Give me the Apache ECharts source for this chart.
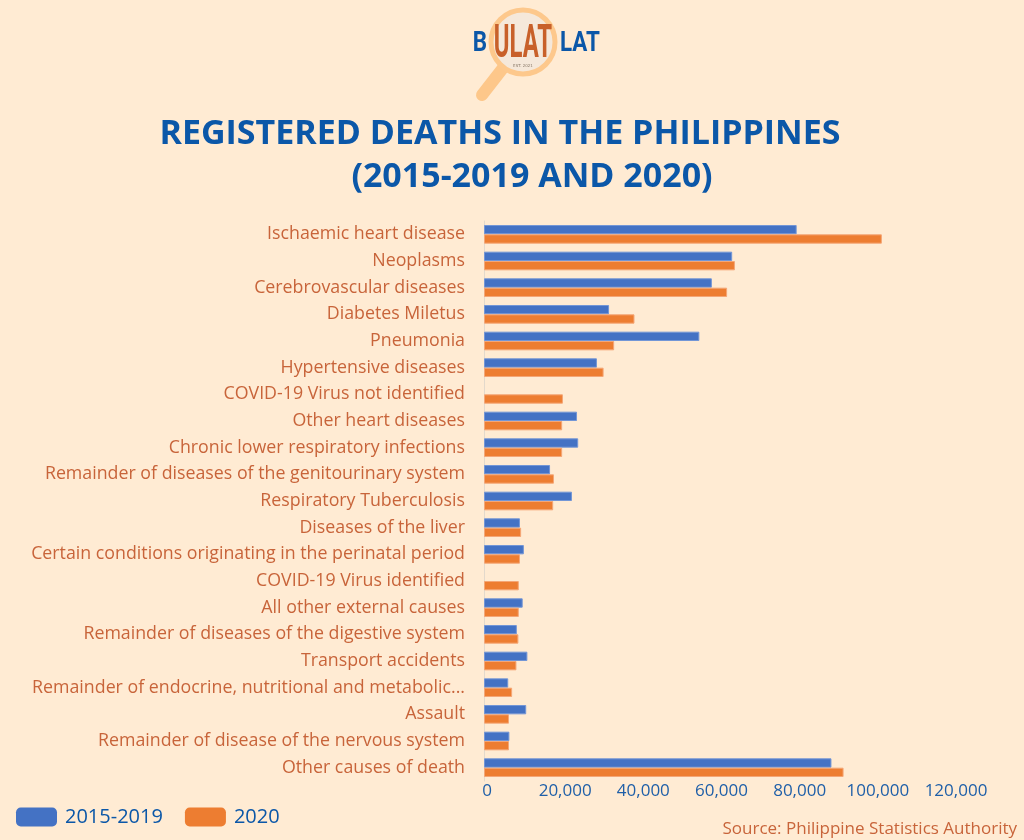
<!DOCTYPE html>
<html>
<head>
<meta charset="utf-8">
<script src="https://cdn.jsdelivr.net/npm/echarts@6/dist/echarts.min.js"></script>
<style>
  html, body { margin: 0; padding: 0; background: #FFEBD3; }
  #chart { width: 1024px; height: 840px; }
</style>
</head>
<body>
<div id="chart"></div>
<script>
// causes of death, top to bottom (labels as printed on the chart)
var causes = [
    "Ischaemic heart disease",
    "Neoplasms",
    "Cerebrovascular diseases",
    "Diabetes Miletus",
    "Pneumonia",
    "Hypertensive diseases",
    "COVID-19 Virus not identified",
    "Other heart diseases",
    "Chronic lower respiratory infections",
    "Remainder of diseases of the genitourinary system",
    "Respiratory Tuberculosis",
    "Diseases of the liver",
    "Certain conditions originating in the perinatal period",
    "COVID-19 Virus identified",
    "All other external causes",
    "Remainder of diseases of the digestive system",
    "Transport accidents",
    "Remainder of endocrine, nutritional and metabolic...",
    "Assault",
    "Remainder of disease of the nervous system",
    "Other causes of death"
];
// 2015-2019 (no bar for the covid rows)
var deaths1519 = [80000, 63500, 58300, 32000, 55100, 28900, null, 23800, 24100, 16900, 22500,
    9200, 10200, null, 9900, 8400, 11100, 6200, 10800, 6500, 88900];
// 2020
var deaths2020 = [101800, 64200, 62200, 38500, 33300, 30600, 20200, 20000, 20000, 17900, 17700,
    9500, 9200, 8900, 8900, 8800, 8300, 7200, 6400, 6400, 92000];
var xTicks = [0, 20000, 40000, 60000, 80000, 100000, 120000];

var labelColor = "#C8643A";
var blueText = "#0B57A8";

var chart = echarts.init(document.getElementById("chart"));
var option = {
    backgroundColor: "#FFEBD3",
    animation: false,
    legend: {
        left: 16,
        bottom: 13,
        padding: 0,
        itemWidth: 41,
        itemHeight: 19,
        itemGap: 22,
        icon: "roundRect",
        itemStyle: { borderWidth: 0 },
        textStyle: { fontFamily: "Open Sans", fontSize: 20, color: blueText, padding: [0, 0, 0, 3] },
        data: ["2015-2019", "2020"]
    },
    grid: { left: 484, right: 71, top: 221, bottom: 59, containLabel: false },
    xAxis: {
        type: "value",
        min: xTicks[0],
        max: xTicks[xTicks.length - 1],
        interval: 20000,
        splitLine: { show: false },
        axisLine: { show: false },
        axisTick: { show: false },
        axisLabel: {
            fontFamily: "Open Sans",
            fontSize: 17,
            color: "#1F5FA8",
            margin: 2,
            padding: [0, 0, 0, 6],
            formatter: function (v) { return v.toLocaleString("en-US"); }
        }
    },
    yAxis: {
        type: "category",
        inverse: true,
        data: causes,
        axisLine: { show: true, lineStyle: { color: "#E3D9CC", width: 1 } },
        axisTick: { show: false },
        axisLabel: {
            fontFamily: "Open Sans",
            fontSize: 17.8,
            color: labelColor,
            margin: 19,
            padding: [3, 0, 0, 0]
        }
    },
    series: [
        {
            name: "2015-2019",
            type: "bar",
            data: deaths1519,
            barGap: "0%",
            barCategoryGap: "30%",
            itemStyle: { color: "#4472C4", borderColor: "#7396D6", borderWidth: 1 }
        },
        {
            name: "2020",
            type: "bar",
            data: deaths2020,
            itemStyle: { color: "#ED7D31", borderColor: "#F4A676", borderWidth: 1 }
        }
    ],
    graphic: [
        // title, two centred lines
        {
            type: "text",
            style: {
                text: "REGISTERED DEATHS IN THE PHILIPPINES", x: 500, y: 134,
                align: "center", verticalAlign: "middle",
                font: "bold 34px 'Open Sans'", fill: blueText
            }
        },
        {
            type: "text",
            style: {
                text: "(2015-2019 AND 2020)", x: 532, y: 177,
                align: "center", verticalAlign: "middle",
                font: "bold 34px 'Open Sans'", fill: blueText
            }
        },
        // logo: magnifier handle and lens
        {
            type: "line",
            shape: { x1: 503, y1: 68, x2: 482, y2: 95 },
            style: { stroke: "#FDC78A", lineWidth: 12, lineCap: "round" }
        },
        {
            type: "circle",
            shape: { cx: 523, cy: 42, r: 32 },
            style: { fill: "#F5E8DA", stroke: "#FDC88C", lineWidth: 5 }
        },
        {
            type: "text",
            x: 480, y: 44, scaleX: 0.8,
            style: {
                text: "B", x: 0, y: 0, align: "center", verticalAlign: "middle",
                font: "bold 28px Roboto", fill: "#0B57A8"
            }
        },
        {
            type: "text",
            x: 523, y: 45, scaleX: 0.52,
            style: {
                text: "ULAT", x: 0, y: 0, align: "center", verticalAlign: "middle",
                font: "bold 46px Roboto", fill: "#C8602A"
            }
        },
        {
            type: "text",
            style: {
                text: "EST. 2021", x: 523, y: 66, align: "center", verticalAlign: "middle",
                font: "4px 'DejaVu Sans'", fill: "#8A7A6A"
            }
        },
        {
            type: "text",
            x: 580, y: 44, scaleX: 0.8,
            style: {
                text: "LAT", x: 0, y: 0, align: "center", verticalAlign: "middle",
                font: "bold 28px Roboto", fill: "#0B57A8"
            }
        },
        {
            type: "text",
            right: 7,
            bottom: 2,
            style: {
                text: "Source: Philippine Statistics Authority",
                font: "17px 'Open Sans'", fill: labelColor
            }
        }
    ]
};
chart.setOption(option);
window.onresize = function () { chart.resize(); };
</script>
</body>
</html>
